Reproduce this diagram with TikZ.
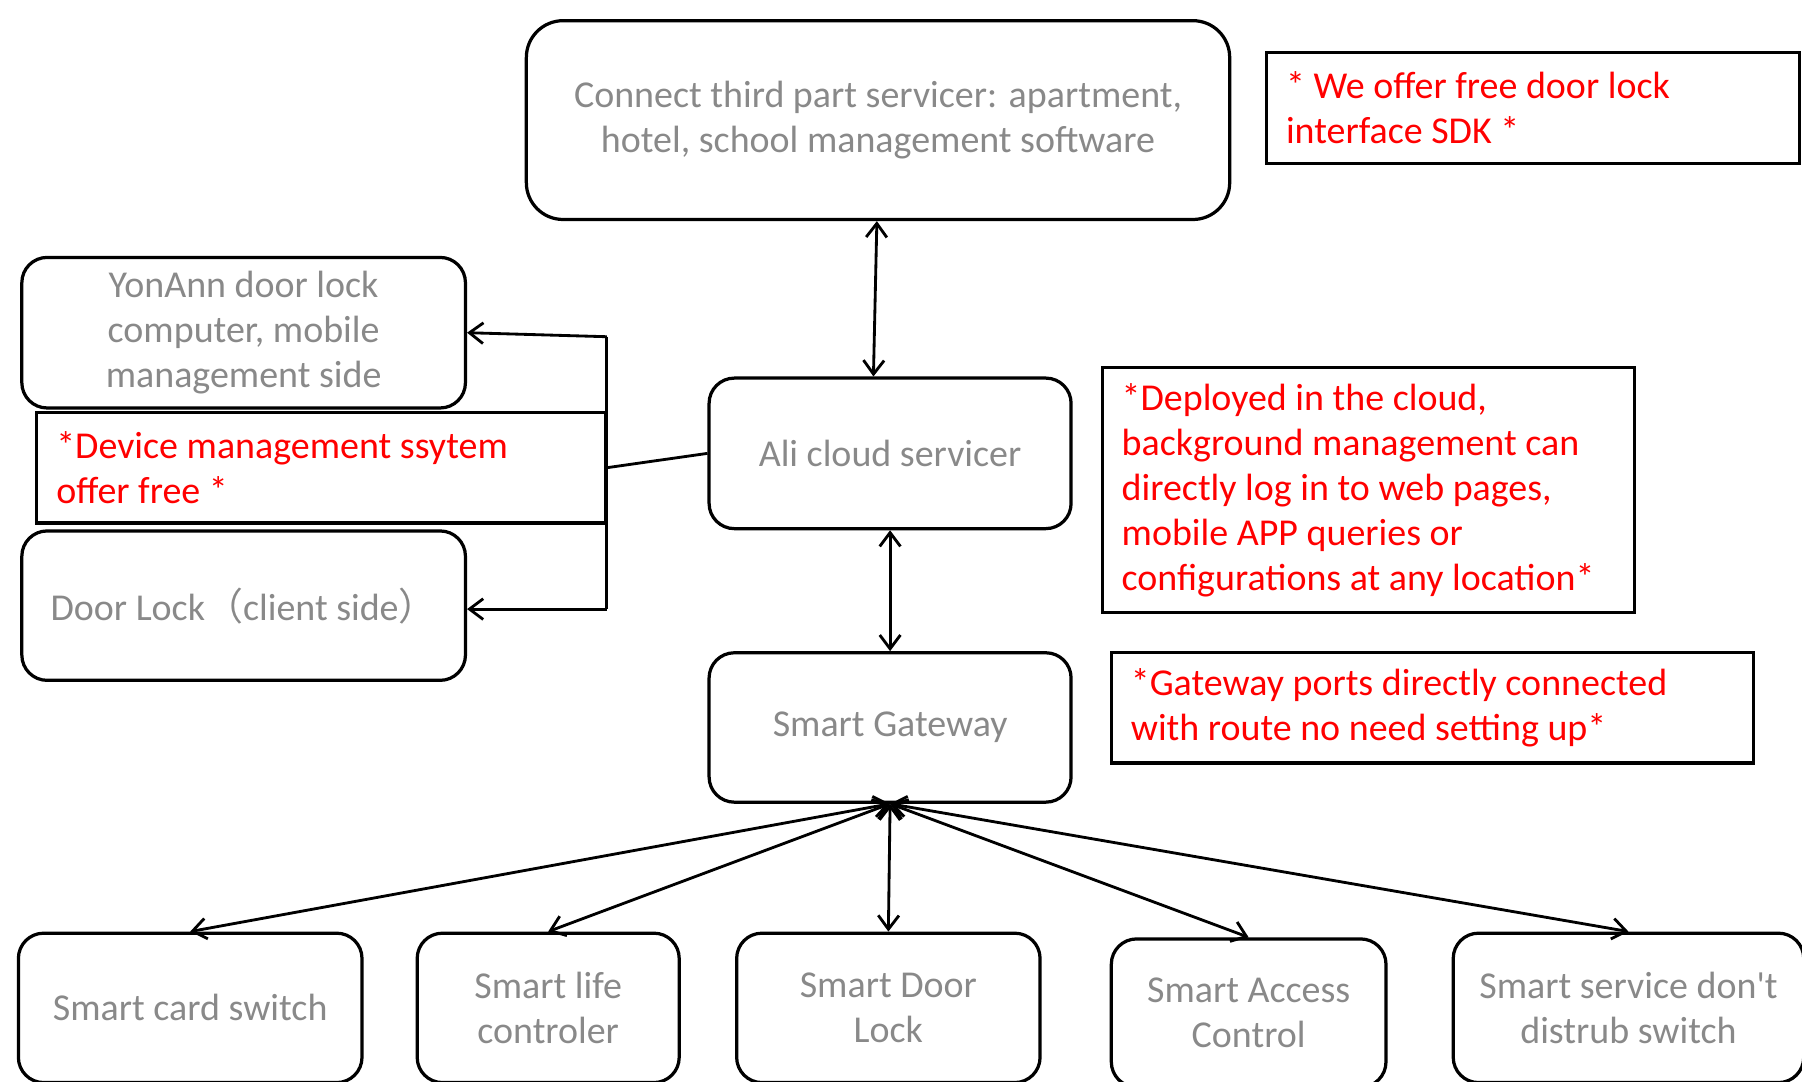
\documentclass[tikz,border=0pt]{standalone}
\usepackage{fontspec}
\setmainfont{Carlito}
\newfontfamily\cjk{Noto Sans CJK SC}
\usetikzlibrary{arrows.meta}
\definecolor{boxgray}{RGB}{137,137,137}
\definecolor{notered}{RGB}{255,0,0}
\begin{document}
\begin{tikzpicture}[
    font=\fontsize{9.4}{11.1}\selectfont,
    unit/.style={draw, line width=0.8pt, rounded corners=0.22cm, text=boxgray, align=center, inner sep=0pt},
    note/.style={draw, line width=0.8pt, text=notered, align=flush left, inner xsep=0.17cm, inner ysep=0pt},
    link/.style={line width=0.7pt},
    >={Straight Barb[length=1.2mm,width=1.8mm]}
  ]
  \useasboundingbox (0,0) rectangle (15.68,9.41);
  \clip (0,0) rectangle (15.68,9.41);

  \node[unit, minimum width=6.12cm, minimum height=1.73cm, rounded corners=0.32cm] (third) at (7.64,8.365)
    {Connect third part servicer: apartment,\\hotel, school management software};
  \node[note, text width=4.30cm, minimum height=0.96cm] (sdk) at (13.34,8.47)
    {* We offer free door lock\\interface SDK *};

  \node[unit, minimum width=3.86cm, minimum height=1.31cm] (yon) at (2.12,6.515)
    {YonAnn door lock\\computer, mobile\\management side};
  \node[note, text width=4.61cm, minimum height=0.96cm] (devnote) at (2.795,5.34)
    {*Device management ssytem\\offer free *};
  \node[unit, minimum width=3.86cm, minimum height=1.30cm] (door) at (2.12,4.14)
    {Door Lock{\cjk （}client side{\cjk ）}};

  \node[unit, minimum width=3.15cm, minimum height=1.31cm] (ali) at (7.745,5.465) {Ali cloud servicer};
  \node[note, text width=4.29cm, minimum height=2.13cm] (cloudnote) at (11.905,5.145)
    {*Deployed in the cloud,\\background management can\\directly log in to web pages,\\mobile APP queries or\\configurations at any location*};

  \node[unit, minimum width=3.15cm, minimum height=1.30cm] (gw) at (7.745,3.08) {Smart Gateway};
  \node[note, text width=5.25cm, minimum height=0.96cm] (gwnote) at (12.465,3.25)
    {*Gateway ports directly connected\\with route no need setting up*};

  \node[unit, minimum width=2.99cm, minimum height=1.30cm] (card) at (1.655,0.64) {Smart card switch};
  \node[unit, minimum width=2.28cm, minimum height=1.30cm] (life) at (4.77,0.64) {Smart life\\controler};
  \node[unit, minimum width=2.64cm, minimum height=1.30cm] (dlock) at (7.73,0.64) {Smart Door\\Lock};
  \node[unit, minimum width=2.39cm, minimum height=1.29cm] (access) at (10.865,0.595) {Smart Access\\Control};
  \node[unit, minimum width=3.05cm, minimum height=1.30cm] (service) at (14.17,0.64) {Smart service don\textquotesingle t\\distrub switch};

  \coordinate (split) at (5.28,5.34);
  \coordinate (splittop) at (5.28,6.48);
  \coordinate (splitbot) at (5.28,4.11);

  \draw[link, <->] ([xshift=-0.01cm]third.south) -- ([xshift=-0.145cm]ali.north);
  \draw[link, <->] (ali.south) -- (gw.north);
  \draw[link] (ali.west) -- (split);
  \draw[link] (splittop) -- (splitbot);
  \draw[link, ->] (splittop) -- (yon.east);
  \draw[link, ->] (splitbot) -- (door.east |- splitbot);

  \foreach \dev in {card,life,dlock,access,service}
    \draw[link, <->] (gw.south) -- (\dev.north);
\end{tikzpicture}
\end{document}
